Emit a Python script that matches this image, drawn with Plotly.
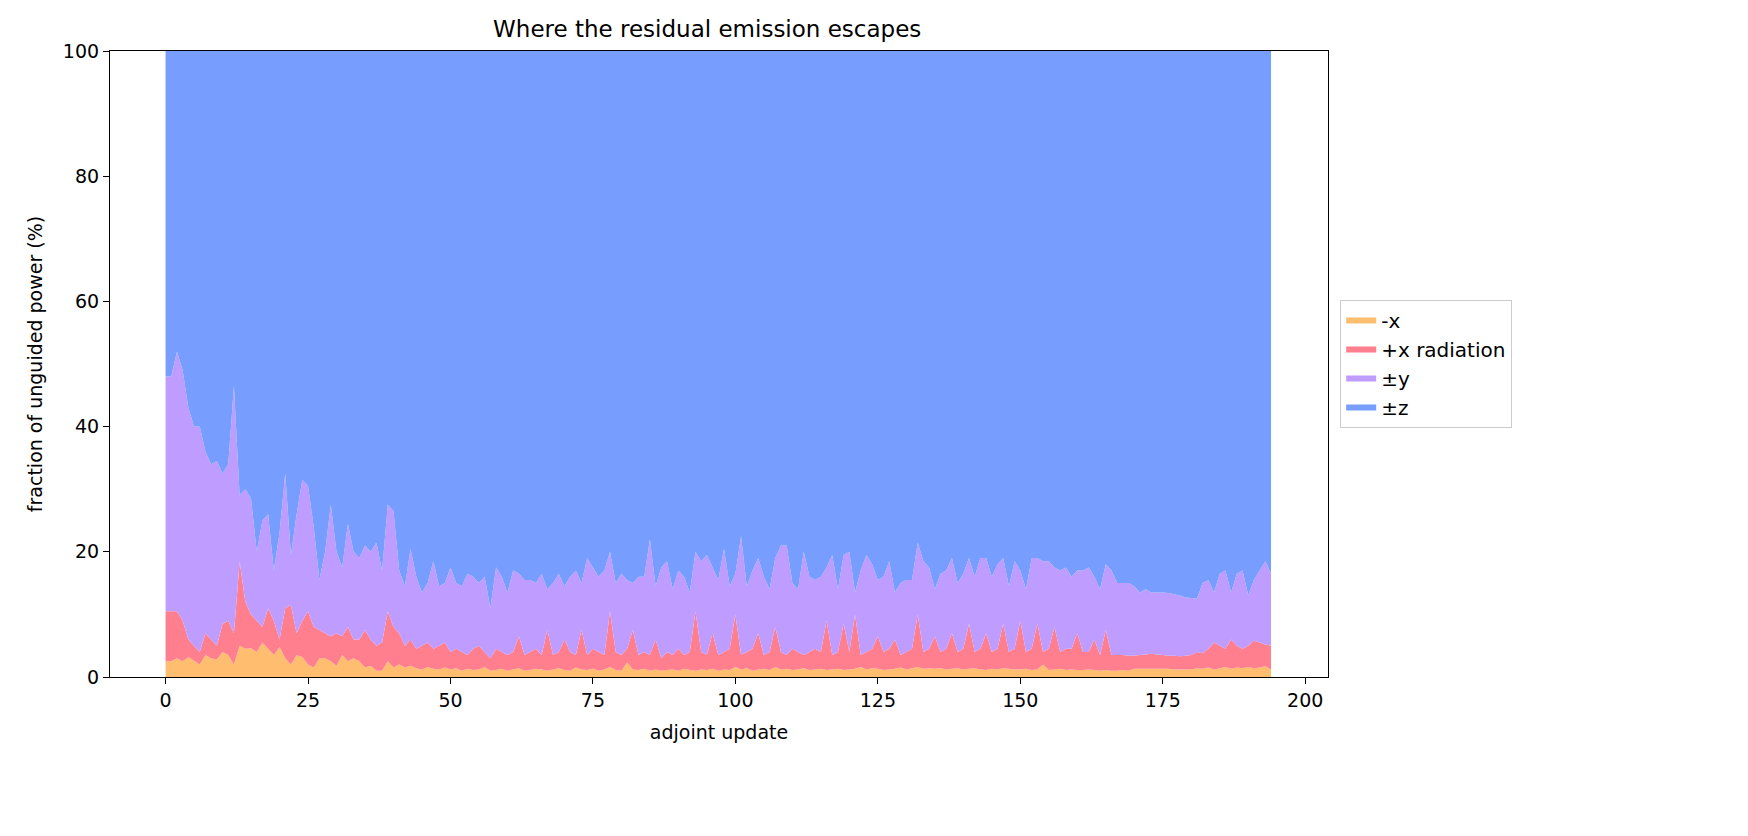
import numpy as np
import plotly.graph_objects as go

# Upper boundaries of each stacked layer (percent), updates 0..194
x_neg = [2.5,2.5,3,2.5,3.2,2.6,2,3.5,3,2.8,4,3.5,2,5,4.5,4.6,4,5.5,4.5,3.5,
         4.8,3,2,3.5,3.2,2,1.5,3,3,2.5,1.8,3.5,2.5,3,2.5,1.5,1.8,1,1,2.5,
         1.5,2,1.5,1.8,1.4,1.2,1.6,1.3,1.2,1.5,1.2,1.4,1,1.3,1.1,1.2,1.6,1,1.1,1.3,
         1,1.2,1.4,1,1.1,1.3,1.2,1,1.2,1.4,1.1,1,1.5,1.2,1.1,1.3,1,1.2,1.6,1.1,
         1,2.3,1.2,1.1,1.3,1,1.2,1,1.1,1.2,1,1.3,1.1,1,1.2,1.1,1.3,1,1.2,1.1,
         1.6,1.2,1.4,1,1.2,1.3,1.1,1.6,1.2,1.3,1.1,1.2,1.4,1.1,1.2,1.3,1.1,1.2,1.3,1.1,
         1.2,1.3,1.6,1.2,1.4,1.3,1.1,1.2,1.3,1.5,1.2,1.4,1.6,1.3,1.4,1.3,1.4,1.2,1.3,1.4,
         1.2,1.3,1.4,1.2,1.1,1.3,1.2,1.4,1.3,1.2,1.2,1.3,1.1,1.2,2,1.1,1.2,1.3,1.1,1.2,
         1.1,1.1,1.2,1.1,1,1.1,1,1,1.1,1,1.3,1.3,1.3,1.3,1.3,1.3,1.3,1.2,1.2,1.2,
         1.2,1.4,1.3,1.5,1.2,1.4,1.6,1.3,1.5,1.4,1.6,1.4,1.5,1.7,1.2]
top_xpos = [10.5,10.5,10.5,9,6,5,4,7,6,5,8.5,9,7,18.5,12,10,9,8,11,9,
            6,11,11.5,7,9,10.5,8,7.5,7,6.5,7,6.5,8,6,6,7.5,6,5,5.5,10.5,
            8,7,5,6,4.5,5,5.5,4.5,5,5.5,4,4.5,4,3.5,4.5,5,4,3,4.5,4,
            3.5,4,6.5,3.5,4,4.5,3.5,7.5,3.5,4,6,4,3.5,7.5,3.5,4.5,4,3.5,10.5,4,
            3.5,4.5,7.5,3.5,4,3.5,6,3,4,3.5,4.5,3.5,4,10.5,4,3.5,7,3.5,4,4.5,
            10,3.5,4,4.5,7,3.5,4,8,4,3.5,4.5,4,3.5,4,4.5,4,9,3.5,4,8.5,
            4,10,3.5,4,4.5,6.5,4,4.5,6,3.5,4,4.5,10,4,4.5,6.5,4,4.5,7,4,
            4.5,8.5,4,4.5,7,4,4.5,8.5,4,4.5,9,4,4.5,8.5,4,4.5,8,4,4.5,4.5,
            7,4,4,6,3.5,7.5,3.5,3.5,3.5,3.4,3.4,3.5,3.6,3.7,3.6,3.5,3.4,3.4,3.3,3.4,
            3.5,4,3.8,4.5,5.5,5,4.5,6,5,4.5,5,5.8,5.5,5.2,5]
top_y = [48,48,52,49,43,40,40,36,34,34.5,32.5,34,46.5,29,30,28.5,20,25,26,17,
         23,32.5,19.5,26,31.5,30.5,24,15.5,20,27.5,20,17.5,24.5,20,19,21,20,21.5,17,27.5,
         26.5,17,14.5,20.5,16,13.5,15,18.5,14.5,15,17.5,15,14.5,16.5,16,15,16,11,17.5,16,
         13.5,17,16.5,15.5,15.5,15,16.5,14,15,16.5,14.5,16,17,15,19,17.5,16,17,20,15,
         16.5,15.5,15,16,16,22,14.5,17.5,18.5,14,17,16,13.5,20,18.5,19.5,17.5,15.5,20.5,14.5,
         16.5,22.5,14.5,17,19,16,14,19,21,21,15,14,20,16,15.5,16,17.5,19.5,14,19.5,
         20,13.5,17,19.5,18,15.5,16,18.5,13.5,15,15.5,15.5,21.5,18.5,17.5,14,16.5,17,19,15,
         16.5,19,16,19,19,16,18,19,14.5,18.5,17,14,19,19,18.5,18.5,17.5,17,17.5,16,
         17,17,17.5,16,14,18,17,15,15,15,14.5,13.5,14,13.5,13.5,13.5,13.4,13.2,13,12.7,
         12.6,12.5,15,15.5,13.5,16.5,17,13.5,16.5,17,13,15.5,17,18.5,16.5]

updates = list(range(len(x_neg)))
x_neg_a = np.array(x_neg)
x_pos_a = np.array(top_xpos) - x_neg_a
y_a = np.array(top_y) - np.array(top_xpos)
z_a = 100 - np.array(top_y)

names = ["-x", "+x radiation", "±y", "±z"]
colors = ["#ffbd6f", "#ff7f8e", "#bf9cff", "#779dff"]
series = [x_neg_a, x_pos_a, y_a, z_a]

fig = go.Figure()
for n, c, s in zip(names, colors, series):
    fig.add_trace(go.Scatter(x=updates, y=s, name=n, stackgroup="one", mode="none",
                             fillcolor=c, line=dict(width=0)))

ax = dict(showline=True, linecolor="black", linewidth=1.2, mirror=True, ticks="outside",
          ticklen=6, tickcolor="black", showgrid=False, zeroline=False,
          tickfont=dict(size=19, color="black"))
fig.update_layout(
    width=1748, height=836, plot_bgcolor="white", paper_bgcolor="white",
    font=dict(family="DejaVu Sans", color="black"),
    margin=dict(l=102, r=428, t=43, b=167),
    title=dict(text="Where the residual emission escapes", x=0.4, xanchor="center",
               y=0.975, yanchor="middle", font=dict(size=23)),
    xaxis=dict(range=[-9.75, 204], tickvals=[0,25,50,75,100,125,150,175,200],
               title=dict(text="adjoint update", font=dict(size=19)), **ax),
    yaxis=dict(range=[0, 100], tickvals=[0,20,40,60,80,100],
               title=dict(text="fraction of unguided power (%)", font=dict(size=19)), **ax),
    legend=dict(x=1.01, y=0.5, xanchor="left", yanchor="middle", traceorder="normal",
                bordercolor="#cccccc", borderwidth=1, font=dict(size=20)),
    showlegend=True,
)
fig.write_html("out.html")
